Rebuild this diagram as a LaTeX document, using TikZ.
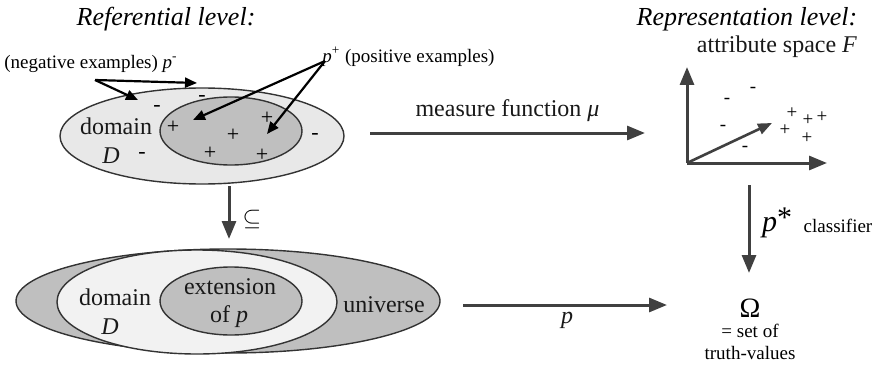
\documentclass[tikz,border=0pt]{standalone}
\usepackage{fontspec}
\setmainfont{Liberation Serif}
\usepackage{amsmath,amssymb}
\usetikzlibrary{arrows.meta,positioning,shapes.geometric}
\definecolor{arrowgray}{RGB}{64,64,64}

\begin{document}
\begin{tikzpicture}[x=0.5pt,y=-0.5pt,
  region/.style={ellipse, draw=black!80, line width=0.7pt, inner sep=0pt},
  title/.style={font=\fontsize{13}{15}\selectfont\itshape, inner sep=1pt},
  lbl/.style={font=\fontsize{12}{14}\selectfont, inner sep=1pt, text=black!90},
  small/.style={font=\fontsize{9.5}{11}\selectfont, inner sep=1pt, align=center},
  sign/.style={font=\fontsize{11}{11}\selectfont, inner sep=0pt},
  tiny sign/.style={font=\fontsize{9.5}{10}\selectfont, inner sep=0pt},
  pointer/.style={-{Triangle[length=6pt,width=5pt]}, line width=1.1pt, black},
  map/.style={-{Triangle[length=9pt,width=7pt]}, line width=1.5pt, arrowgray}]
\useasboundingbox (0,0) rectangle (876,369);

% titles
\node[title] (reftitle) at (166,19) {Referential level:};
\node[title] (reptitle) at (747,19) {Representation level:};

% referential level, examples
\node[region, fill=black!9, minimum width=142pt, minimum height=48pt] (dom) at (202,136) {};
\node[region, fill=black!25, minimum width=71pt, minimum height=34pt] (pos) at (231,131) {};
\node[lbl] (domlbl) at (116,126) {domain};
\node[lbl] (dlbl) at (111,156) {\textit{D}};
\foreach \x/\y [count=\i] in {157/108, 202/98, 142/155, 315/136}
  \node[sign] (neg\i) at (\x,\y) {-};
\foreach \x/\y [count=\i] in {173/127, 233/135, 267/118, 210/153, 262/155}
  \node[sign] (plus\i) at (\x,\y) {+};

\node[small, anchor=west] (neglbl) at (2,64) {(negative examples) \textit{p}\textsuperscript{-}};
\node[small, anchor=west] (poslbl) at (320,57) {\textit{p}\textsuperscript{+} (positive examples)};
\coordinate (negfrom) at (95,80);
\coordinate (posfrom) at (325,61);
\coordinate (negtip1) at (197,83);
\coordinate (negtip2) at (138,100);
\coordinate (postip1) at (193,120);
\coordinate (postip2) at (267,134);
\draw[pointer] (negfrom) -- (negtip1);
\draw[pointer] (negfrom) -- (negtip2);
\draw[pointer] (posfrom) -- (postip1);
\draw[pointer] (posfrom) -- (postip2);

% measure function
\coordinate (mustart) at (370,133);
\coordinate (muend) at (645,133);
\draw[map] (mustart) -- node[lbl, above=4pt] (mulbl) {measure function \textit{μ}} (muend);

% attribute space
\coordinate (origin) at (687,163);
\coordinate (yaxis) at (687,67);
\coordinate (xaxis) at (827,163);
\coordinate (vec) at (772,123);
\draw[map] (origin) -- (yaxis);
\draw[map] (origin) -- (xaxis);
\draw[-{Triangle[length=7pt,width=5.5pt]}, line width=1.3pt, arrowgray] (origin) -- (vec);
\node[lbl] (spacelbl) at (777,47) {attribute space \textit{F}};
\foreach \x/\y [count=\i] in {727/101, 753/90, 723/128, 745/149}
  \node[tiny sign] (fneg\i) at (\x,\y) {-};
\foreach \x/\y [count=\i] in {792/113, 785/130, 808/120, 807/138, 822/117}
  \node[tiny sign] (fplus\i) at (\x,\y) {+};

% classifier
\coordinate (clstart) at (749,185);
\coordinate (clend) at (749,273);
\draw[map] (clstart) -- (clend);
\node[font=\fontsize{15}{15}\selectfont, inner sep=1pt] (pstar) at (777,223) {\textit{p}\raisebox{0.25ex}{*}};
\node[small] (cllbl) at (838,226) {classifier};
\node[font=\fontsize{14}{14}\selectfont, inner sep=1pt] (omega) at (750,308) {Ω};
\node[small, below=1pt of omega] (truthlbl) {= set of\\truth-values};

% inclusion
\coordinate (substart) at (229,186);
\coordinate (subend) at (229,239);
\draw[map] (substart) -- (subend);
\node[inner sep=0pt, font=\large] (sublbl) at (252,219) {$\subseteq$};

% universe, domain, extension
\node[region, fill=black!25, minimum width=212pt, minimum height=52pt] (univ) at (228,301) {};
\node[region, fill=black!5, minimum width=140pt, minimum height=52pt] (bdom) at (197,302) {};
\node[region, fill=black!25, minimum width=71pt, minimum height=34pt] (extp) at (231,301) {};
\node[lbl] (bdomlbl) at (115,297) {domain};
\node[lbl] (bdlbl) at (110,327) {\textit{D}};
\node[lbl] (extlbl1) at (230,287) {extension};
\node[lbl] (extlbl2) at (229,317) {of \textit{p}};
\node[lbl] (univlbl) at (384,305) {universe};

% p
\coordinate (pstart) at (463,305);
\coordinate (pend) at (667,305);
\draw[map] (pstart) -- (pend);
\node[lbl] (plbl) at (567,320) {\textit{p}};
\end{tikzpicture}
\end{document}
